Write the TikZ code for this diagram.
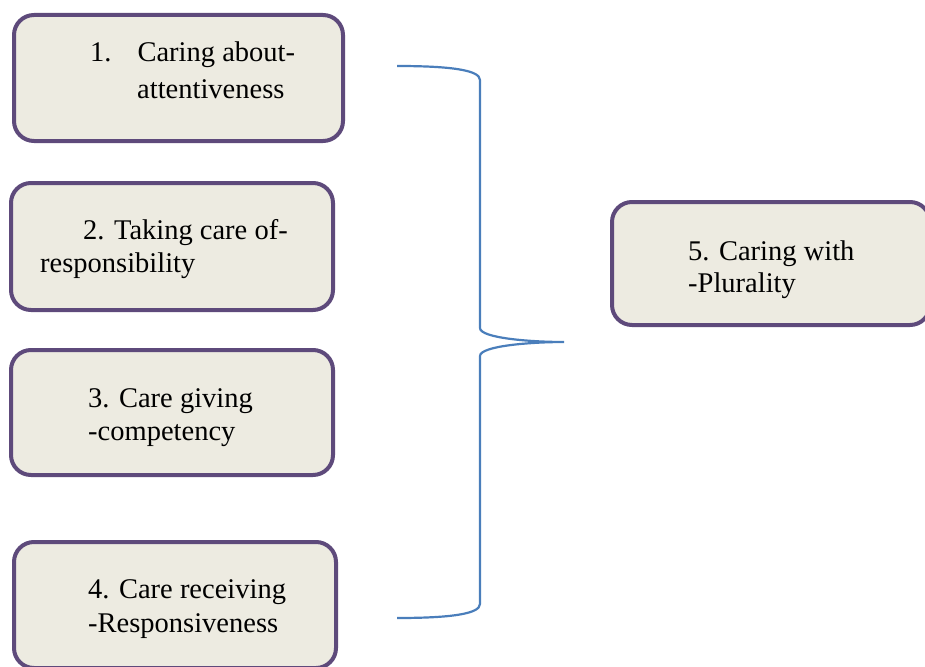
\documentclass[tikz,border=0pt]{standalone}
\usepackage{fontspec}
\setmainfont{Liberation Serif}
\usetikzlibrary{positioning}

\definecolor{boxfill}{HTML}{EDEBE1}
\definecolor{boxline}{HTML}{5E4A7B}
\definecolor{braceblue}{HTML}{4A7EBB}

\begin{document}
\begin{tikzpicture}[x=1pt, y=-1pt,
	carebox/.style = {draw = boxline, fill = boxfill, line width = 4pt, rounded corners = 20pt, inner sep = 0pt},
	caretext/.style = {anchor = base west, align = left, inner sep = 0pt}]
	\useasboundingbox (0,0) rectangle (925,666);
	\clip (0,0) rectangle (925,666);
	\node[carebox, minimum width = 329pt, minimum height = 126pt] (attentive) at (178.5,78) {};
	\node[carebox, minimum width = 322pt, minimum height = 127pt] (responsible) at (172,246.5) {};
	\node[carebox, minimum width = 322pt, minimum height = 125pt] (competent) at (172,412.5) {};
	\node[carebox, minimum width = 322pt, minimum height = 126pt] (responsive) at (175,605) {};
	\node[carebox, minimum width = 318pt, minimum height = 123pt] (plurality) at (771,263.5) {};
	% base anchor sits on the last line
	\node[caretext, font = \fontsize{28.5}{37}\selectfont] (attentivetext) at (90,99) {1.\hspace{26pt}Caring about-\\\hspace{47pt}attentiveness};
	\node[caretext, font = \fontsize{28.5}{33}\selectfont] (responsibletext) at (40,272) {\hspace{43pt}2. Taking care of-\\responsibility};
	\node[caretext, font = \fontsize{28.5}{33}\selectfont] (competenttext) at (88,440) {3. Care giving\\-competency};
	\node[caretext, font = \fontsize{28.5}{34}\selectfont] (responsivetext) at (88,632) {4. Care receiving\\-Responsiveness};
	\node[caretext, font = \fontsize{28.5}{32}\selectfont] (pluralitytext) at (688,292) {5. Caring with\\-Plurality};
	\coordinate (bracetop) at (397,66);
	\coordinate (bracetip) at (564,342);
	\coordinate (bracebot) at (397,618);
	\draw[braceblue, line width = 2.2pt] (bracetop) .. controls (450,66) and (480,70) .. (480,80) -- (480,328)
		.. controls (480,338) and (530,342) .. (bracetip)
		.. controls (530,342) and (480,346) .. (480,356) -- (480,604)
		.. controls (480,614) and (450,618) .. (bracebot);
\end{tikzpicture}
\end{document}
